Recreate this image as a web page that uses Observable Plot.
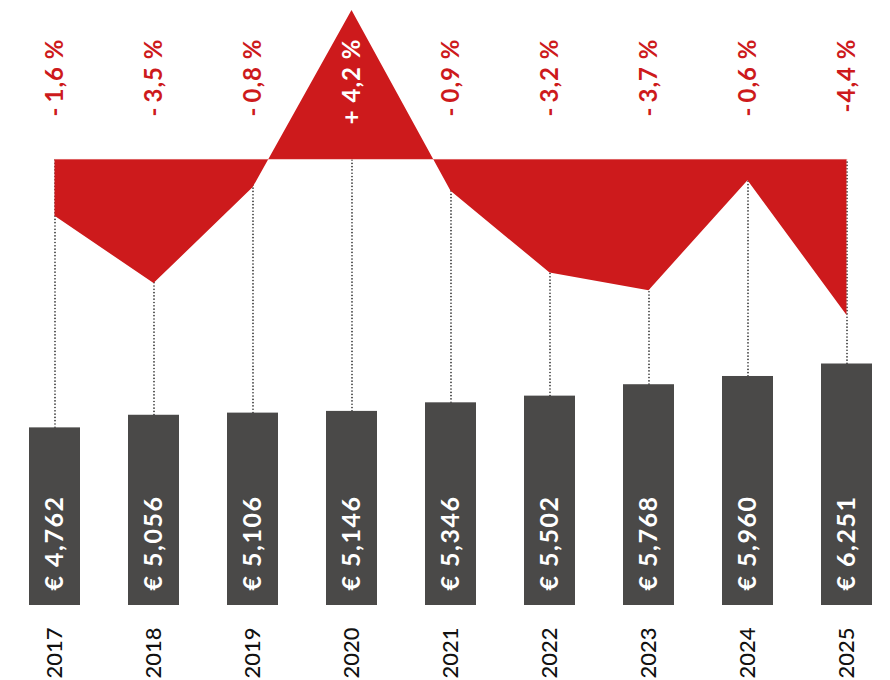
<!DOCTYPE html>
<html>
<head>
<meta charset="utf-8">
<script src="https://cdn.jsdelivr.net/npm/d3@7"></script>
<script src="https://cdn.jsdelivr.net/npm/@observablehq/plot@0.6"></script>
<style>
  html, body { margin: 0; padding: 0; background: #fff; }
  #chart { position: relative; width: 890px; height: 680px; }
  #chart svg { position: absolute; left: 0; top: 0; }
</style>
</head>
<body>
<div id="chart"></div>
<script>
const years = ["2017","2018","2019","2020","2021","2022","2023","2024","2025"];
const values = [4762, 5056, 5106, 5146, 5346, 5502, 5768, 5960, 6251];
const valueLabels = ["€ 4,762","€ 5,056","€ 5,106","€ 5,146","€ 5,346","€ 5,502","€ 5,768","€ 5,960","€ 6,251"];
const changes = [-1.6, -3.5, -0.8, 4.2, -0.9, -3.2, -3.7, -0.6, -4.4];
const changeLabels = ["-\u20091,6 %","-\u20093,5 %","-\u20090,8 %","+ 4,2 %","-\u20090,9 %","-\u20093,2 %","-\u20093,7 %","-\u20090,6 %","-4,4 %"];

const RED = "#cd1a1c";
const GREY = "#4a4948";
const FONT = "Lato, 'Open Sans', sans-serif";

const rows = years.map((y, i) => ({year: y, value: values[i], vlabel: valueLabels[i], pct: changes[i], plabel: changeLabels[i]}));

const W = 890, H = 680;
const xOpts = {type: "band", domain: years, paddingInner: 0.48, paddingOuter: 0, axis: null};
const pctDomain = [-4.4, 4.2];
const euroBase = 621;
const euroDomain = [euroBase, 6251];
const pctMargins = {marginTop: 10, marginBottom: 365};
const euroMargins = {marginTop: 363.5, marginBottom: 75};

// standalone scales to connect both panels
const pctScale = Plot.scale({y: {domain: pctDomain, range: [H - pctMargins.marginBottom, pctMargins.marginTop]}});
const euroScale = Plot.scale({y: {domain: euroDomain, range: [H - euroMargins.marginBottom, euroMargins.marginTop]}});
const ruleTop = euroScale.invert(pctScale.apply(0));

const barsPlot = Plot.plot({
  width: W, height: H,
  marginLeft: 27, marginRight: 16,
  ...euroMargins,
  style: {fontFamily: FONT, background: "white", overflow: "visible"},
  x: xOpts,
  y: {domain: euroDomain, axis: null},
  marks: [
    Plot.ruleX(rows, {x: "year", y1: "value", y2: () => ruleTop, stroke: "#222", strokeWidth: 1.6, strokeDasharray: "0.1 3.2", strokeLinecap: "round"}),
    Plot.barY(rows, {x: "year", y1: () => euroBase, y2: "value", fill: GREY}),
    Plot.text(rows, {x: "year", text: "vlabel", frameAnchor: "bottom", lineAnchor: "middle", dy: -15, rotate: -90, textAnchor: "start", fill: "white", fontSize: 25, fontWeight: 700, className: "vlab"}),
    Plot.axisX({tickRotate: -90, tickSize: 0, tickPadding: 22, fontSize: 22, fontWeight: 500, fill: "#111", label: null})
  ]
});

const changePlot = Plot.plot({
  width: W, height: H,
  marginLeft: 27, marginRight: 16,
  ...pctMargins,
  style: {fontFamily: FONT, background: "transparent", overflow: "visible"},
  x: xOpts,
  y: {domain: pctDomain, axis: null},
  marks: [
    Plot.areaY(rows, {x: "year", y1: () => 0, y2: "pct", fill: RED}),
    Plot.lineY(rows, {x: "year", y: () => 0, stroke: "#ec9a9b", strokeWidth: 0.6}),
    Plot.text(rows, {x: "year", text: "plabel", frameAnchor: "top", lineAnchor: "middle", dy: 28, rotate: -90, textAnchor: "end", fill: d => d.pct > 0 ? "white" : RED, fontSize: 24, fontWeight: 700, className: "plab"})
  ]
});

d3.select(barsPlot).selectAll(".vlab text").attr("letter-spacing", "1.5px");
d3.select(changePlot).selectAll(".plab text").attr("letter-spacing", "1px");

const chart = document.getElementById("chart");
chart.appendChild(barsPlot);
chart.appendChild(changePlot);
</script>
</body>
</html>
